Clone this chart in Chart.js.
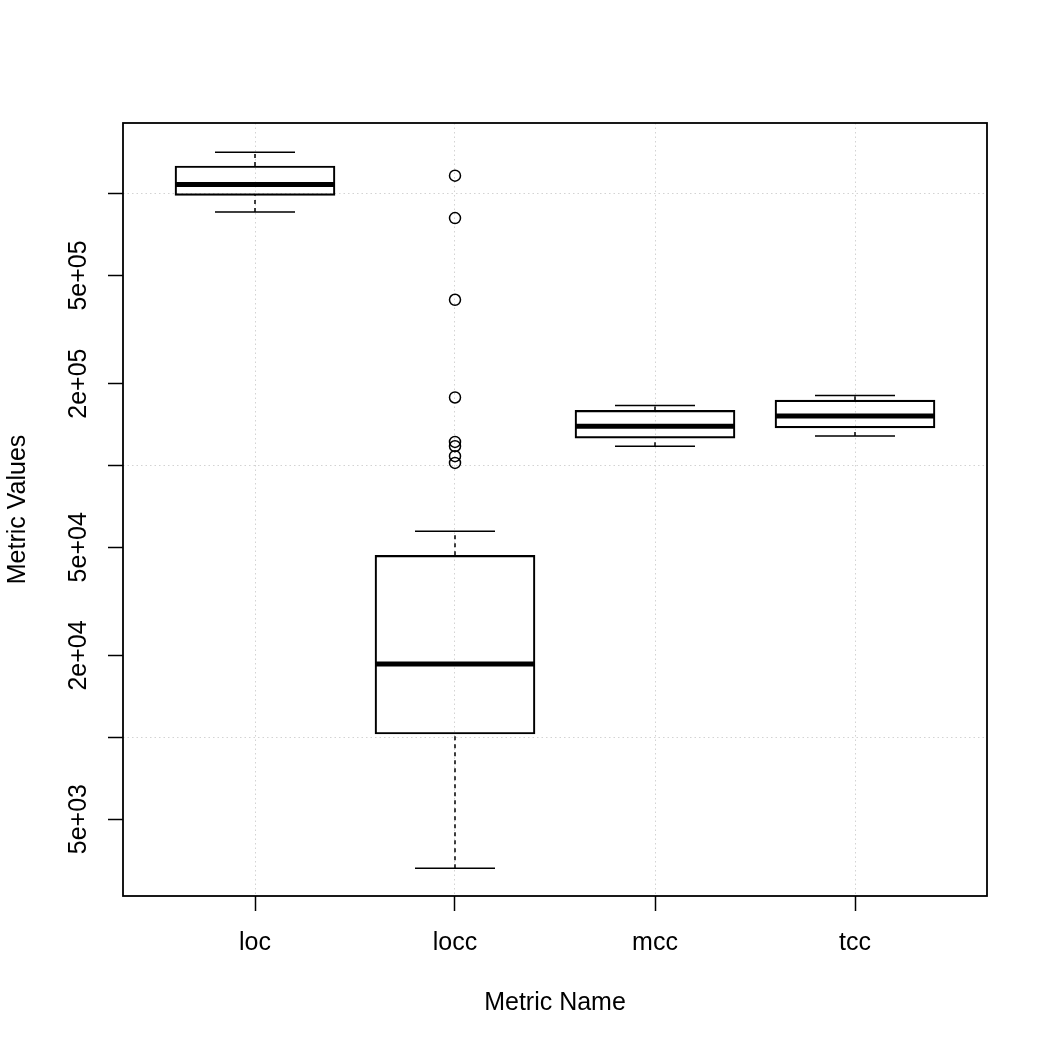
<!DOCTYPE html>
<html>
<head>
<meta charset="utf-8">
<script src="https://cdn.jsdelivr.net/npm/chart.js@4/dist/chart.umd.min.js"></script>
<style>
  html, body { margin: 0; padding: 0; background: #fff; }
  canvas { display: block; }
</style>
</head>
<body>
<canvas id="boxChart" width="1050" height="1050"></canvas>
<script>
// metric names along x
const categories = ['loc', 'locc', 'mcc', 'tcc'];

// box statistics
const whiskerLow = [8.56e5, 3.30e3, 1.178e5, 1.285e5];
const boxLow = [9.86e5, 1.028e4, 1.26e5, 1.375e5];
const medians = [1.082e6, 1.861e4, 1.395e5, 1.522e5];
const boxHigh = [1.264e6, 4.67e4, 1.594e5, 1.739e5];
const whiskerHigh = [1.42e6, 5.73e4, 1.663e5, 1.81e5];

// outliers (all belong to locc)
const outlierCategory = ['locc', 'locc', 'locc', 'locc', 'locc', 'locc', 'locc', 'locc'];
const outlierValues = [1.165e6, 8.13e5, 4.07e5, 1.779e5, 1.221e5, 1.178e5, 1.082e5, 1.022e5];

// y axis ticks
const yTickValues = [5e3, 1e4, 2e4, 5e4, 1e5, 2e5, 5e5, 1e6];
const yTickLabels = ['5e+03', '', '2e+04', '5e+04', '', '2e+05', '5e+05', ''];
const yGridValues = [1e4, 1e5, 1e6];

const yMin = 2606;
const yMax = 1.82e6;

const font = { family: 'Liberation Sans, Arial, sans-serif', size: 25 };
const capHalf = 0.2;
const boxHalf = 0.4;

// build segment lists for whiskers, caps and medians (null breaks the line)
const whiskerPts = [];
const capPts = [];
const medianPts = [];
categories.forEach((c, i) => {
  const x = i + 1;
  whiskerPts.push({ x: x, y: whiskerLow[i] }, { x: x, y: boxLow[i] }, { x: x, y: null });
  whiskerPts.push({ x: x, y: boxHigh[i] }, { x: x, y: whiskerHigh[i] }, { x: x, y: null });
  capPts.push({ x: x - capHalf, y: whiskerLow[i] }, { x: x + capHalf, y: whiskerLow[i] }, { x: x, y: null });
  capPts.push({ x: x - capHalf, y: whiskerHigh[i] }, { x: x + capHalf, y: whiskerHigh[i] }, { x: x, y: null });
  medianPts.push({ x: x - boxHalf, y: medians[i] }, { x: x + boxHalf, y: medians[i] }, { x: x, y: null });
});

const outlierPts = outlierValues.map((v, i) => ({
  x: categories.indexOf(outlierCategory[i]) + 1,
  y: v
}));

const frame = {
  id: 'frame',
  afterDraw(chart) {
    const { ctx, chartArea: a } = chart;
    ctx.save();
    ctx.strokeStyle = '#000';
    ctx.lineWidth = 1.8;
    ctx.strokeRect(a.left, a.top, a.right - a.left, a.bottom - a.top);
    ctx.restore();
  }
};

const lineBase = {
  type: 'line',
  borderColor: '#000',
  pointRadius: 0,
  tension: 0,
  spanGaps: false,
  fill: false
};

const ctx = document.getElementById('boxChart').getContext('2d');
new Chart(ctx, {
  type: 'bar',
  data: {
    datasets: [
      {
        label: 'box',
        data: categories.map((c, i) => ({ x: i + 1, y: [boxLow[i], boxHigh[i]] })),
        backgroundColor: 'rgba(0,0,0,0)',
        borderColor: '#000',
        borderWidth: 1.5,
        borderSkipped: false,
        barThickness: 160
      },
      Object.assign({}, lineBase, {
        label: 'whiskers',
        data: whiskerPts,
        borderWidth: 1.5,
        borderDash: [4, 4]
      }),
      Object.assign({}, lineBase, {
        label: 'caps',
        data: capPts,
        borderWidth: 1.5
      }),
      Object.assign({}, lineBase, {
        label: 'medians',
        data: medianPts,
        borderWidth: 5,
        borderCapStyle: 'butt'
      }),
      {
        type: 'scatter',
        label: 'outliers',
        data: outlierPts,
        pointStyle: 'circle',
        pointRadius: 5.5,
        pointBorderWidth: 1.5,
        borderColor: '#000',
        backgroundColor: 'rgba(0,0,0,0)'
      }
    ]
  },
  options: {
    responsive: false,
    animation: false,
    devicePixelRatio: 1,
    layout: { padding: { top: 123, right: 63, bottom: 0, left: 0 } },
    plugins: {
      legend: { display: false },
      tooltip: { enabled: false }
    },
    scales: {
      x: {
        type: 'linear',
        min: 0.34,
        max: 4.66,
        offset: false,
        afterBuildTicks: (s) => {
          s.ticks = categories.map((c, i) => ({ value: i + 1 }));
        },
        afterFit: (s) => { s.height = 154; },
        ticks: {
          callback: (v) => categories[v - 1],
          font: font,
          color: '#000',
          padding: 17,
          autoSkip: false,
          maxRotation: 0
        },
        grid: {
          offset: false,
          color: '#d3d3d3',
          lineWidth: 1,
          tickColor: '#000',
          tickLength: 15,
          tickWidth: 1.5
        },
        border: { display: false, dash: [1.5, 3] },
        title: {
          display: true,
          text: 'Metric Name',
          font: font,
          color: '#000',
          padding: { top: 0, bottom: 32 }
        }
      },
      y: {
        type: 'logarithmic',
        min: yMin,
        max: yMax,
        afterBuildTicks: (s) => {
          s.ticks = yTickValues.map((v) => ({ value: v }));
        },
        afterFit: (s) => { s.width = 123; },
        ticks: {
          callback: (v) => yTickLabels[yTickValues.indexOf(v)],
          font: font,
          color: '#000',
          minRotation: 90,
          maxRotation: 90,
          crossAlign: 'center',
          padding: -6,
          autoSkip: false
        },
        grid: {
          color: (c) => (c.tick && yGridValues.includes(c.tick.value)) ? '#d3d3d3' : 'rgba(0,0,0,0)',
          lineWidth: 1,
          tickColor: '#000',
          tickLength: 15,
          tickWidth: 1.5
        },
        border: { display: false, dash: [1.5, 3] },
        title: {
          display: true,
          text: 'Metric Values',
          font: font,
          color: '#000',
          padding: { top: 3, bottom: 0 }
        }
      }
    }
  },
  plugins: [frame]
});
</script>
</body>
</html>
